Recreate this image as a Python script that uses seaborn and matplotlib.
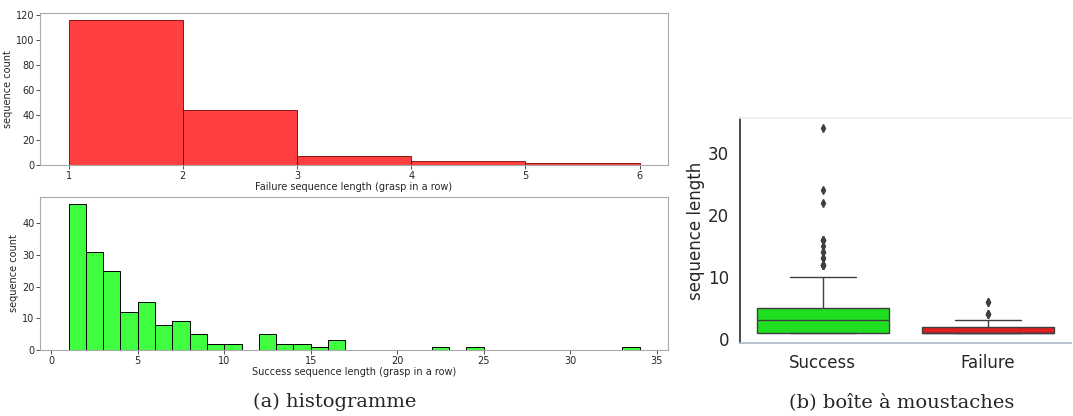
import numpy as np
import pandas as pd
import seaborn as sns
import matplotlib.pyplot as plt

sns.set_theme(style="white")
plt.rcParams['font.family'] = ['DejaVu Sans']

# Failure sequence lengths (value -> count)
fail_values = [1, 2, 3, 4, 6]
fail_counts = [116, 44, 7, 3, 2]

# Success sequence lengths (value -> count)
succ_values = [1, 2, 3, 4, 5, 6, 7, 8, 9, 10, 12, 13, 14, 15, 16, 22, 24, 34]
succ_counts = [46, 31, 25, 12, 15, 8, 9, 5, 2, 2, 5, 2, 2, 1, 3, 1, 1, 1]

fail = np.repeat(fail_values, fail_counts)
succ = np.repeat(succ_values, succ_counts)

df = pd.DataFrame({
    "outcome": ["Success"] * len(succ) + ["Failure"] * len(fail),
    "length": np.concatenate([succ, fail]),
})

fig = plt.figure(figsize=(10.73, 4.16), dpi=100)
ax1 = fig.add_axes([0.0373, 0.603, 0.5853, 0.3665])
ax2 = fig.add_axes([0.0373, 0.1587, 0.5853, 0.3677])
ax3 = fig.add_axes([0.6897, 0.1755, 0.3083, 0.5405])

# top histogram: failures
sns.histplot(x=fail, bins=[1, 2, 3, 4, 5, 6], color="red", alpha=0.75,
             edgecolor="#7a0000", linewidth=0.6, ax=ax1)
ax1.set_xlabel("Failure sequence length (grasp in a row)", fontsize=7, labelpad=1)
ax1.set_ylabel("sequence count", fontsize=7, labelpad=2)
ax1.set_yticks([0, 20, 40, 60, 80, 100, 120])

# bottom histogram: successes
sns.histplot(x=succ, bins=np.arange(1, 35), color="lime", alpha=0.75,
             edgecolor="black", linewidth=0.7, ax=ax2)
ax2.set_xlabel("Success sequence length (grasp in a row)", fontsize=7, labelpad=1)
ax2.set_ylabel("sequence count", fontsize=7, labelpad=2)
ax2.set_xticks([0, 5, 10, 15, 20, 25, 30, 35])

for ax in (ax1, ax2):
    ax.tick_params(axis="both", labelsize=7, length=3, width=0.6, pad=1,
                   bottom=True, left=True, color="#333333")
    for s in ax.spines.values():
        s.set_color("#aaaaaa")
        s.set_linewidth(0.8)

# boxplot
sns.boxplot(data=df, x="outcome", y="length", hue="outcome",
            palette={"Success": "lime", "Failure": "red"}, width=0.8,
            linecolor="#3f3f3f", linewidth=1.0,
            flierprops=dict(marker="d", markersize=4, markerfacecolor="#3f3f3f",
                            markeredgecolor="#3f3f3f"), ax=ax3)
ax3.set_xlabel("")
ax3.set_ylabel("sequence length", fontsize=12, labelpad=2)
ax3.set_yticks([0, 10, 20, 30])
ax3.tick_params(axis="both", labelsize=12, pad=2)
ax3.spines["right"].set_visible(False)
ax3.spines["top"].set_color("#eeeeee")
ax3.spines["left"].set_color("#333333")
ax3.spines["bottom"].set_color("#b0bcc8")

fig.text(0.312, 0.034, "(a) histogramme", ha="center", va="center",
         fontsize=14, family=["DejaVu Serif"])
fig.text(0.84, 0.034, "(b) boîte à moustaches", ha="center", va="center",
         fontsize=14, family=["DejaVu Serif"])

fig.savefig("out.png", dpi=100)
